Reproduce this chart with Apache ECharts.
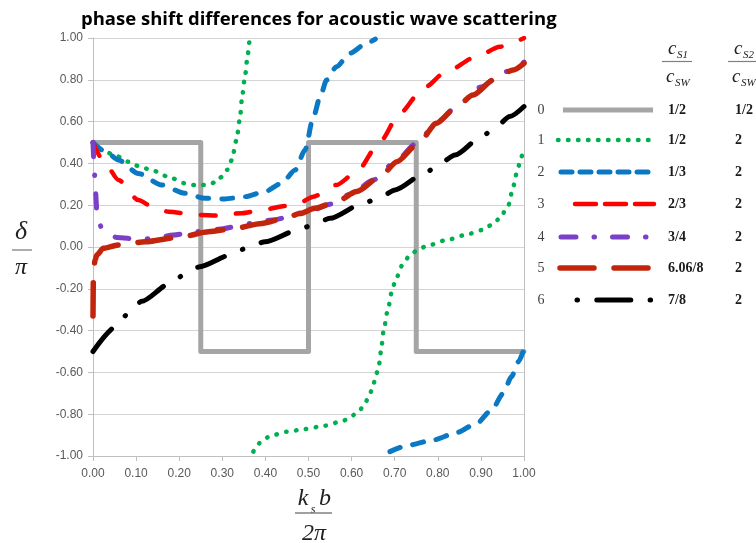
<!DOCTYPE html>
<html>
<head>
<meta charset="utf-8">
<script src="https://cdn.jsdelivr.net/npm/echarts@6/dist/echarts.min.js"></script>
<style>
  html, body { margin: 0; padding: 0; background: #ffffff; }
  #chart { width: 756px; height: 543px; }
</style>
</head>
<body>
<div id="chart"></div>
<script>
// Tick labels
const xTickLabels = ['0.00','0.10','0.20','0.30','0.40','0.50','0.60','0.70','0.80','0.90','1.00'];
const yTickLabels = ['-1.00','-0.80','-0.60','-0.40','-0.20','0.00','0.20','0.40','0.60','0.80','1.00'];

// Legend table: curve index, c_S1/c_SW and c_S2/c_SW
const curveIndex = ['0','1','2','3','4','5','6'];
const ratioS1 = ['1/2','1/2','1/3','2/3','3/4','6.06/8','7/8'];
const ratioS2 = ['1/2','2','2','2','2','2','2'];

// Curve 0: c_S1/c_SW = 1/2, c_S2/c_SW = 1/2
const curve0 = [[0,0.5],[0.25,0.5],[0.25,-0.5],[0.5,-0.5],[0.5,0.5],[0.75,0.5],[0.75,-0.5],[1,-0.5]];

// Curve 1: 1/2, 2 (two branches, wraps at +1 / -1)
const curve1a = [[0,0.5],[0.028,0.456],[0.055,0.435],[0.082,0.408],[0.109,0.384],[0.136,0.368],[0.175,0.336],
  [0.213,0.305],[0.24,0.295],[0.264,0.297],[0.285,0.31],[0.299,0.336],[0.312,0.37],[0.322,0.416],
  [0.333,0.512],[0.341,0.616],[0.346,0.719],[0.353,0.823],[0.359,0.92],[0.363,0.99]];
const curve1b = [[0.372,-0.979],[0.391,-0.931],[0.411,-0.904],[0.449,-0.884],[0.492,-0.871],[0.538,-0.855],
  [0.581,-0.831],[0.6,-0.809],[0.619,-0.78],[0.631,-0.748],[0.643,-0.7],[0.65,-0.66],[0.658,-0.604],
  [0.664,-0.557],[0.668,-0.501],[0.674,-0.405],[0.683,-0.31],[0.694,-0.209],[0.702,-0.155],[0.72,-0.078],
  [0.735,-0.04],[0.751,-0.018],[0.774,0.005],[0.82,0.033],[0.863,0.057],[0.902,0.081],[0.925,0.105],
  [0.944,0.137],[0.964,0.201],[0.975,0.289],[0.983,0.353],[0.991,0.408],[0.997,0.456]];

// Curve 2: 1/3, 2 (two branches)
const curve2a = [[0,0.5],[0.03,0.455],[0.059,0.416],[0.105,0.352],[0.159,0.297],[0.213,0.257],[0.26,0.233],
  [0.306,0.23],[0.353,0.241],[0.399,0.265],[0.438,0.305],[0.469,0.368],[0.492,0.464],[0.511,0.62],
  [0.527,0.719],[0.542,0.799],[0.565,0.863],[0.596,0.927],[0.635,0.975],[0.655,0.995]];
const curve2b = [[0.689,-0.979],[0.735,-0.947],[0.79,-0.923],[0.844,-0.888],[0.89,-0.844],[0.925,-0.78],
  [0.952,-0.7],[0.971,-0.62],[0.987,-0.549],[0.998,-0.5]];

// Curve 3: 2/3, 2
const curve3 = [[0,0.5],[0.028,0.4],[0.059,0.321],[0.105,0.225],[0.14,0.19],[0.175,0.169],[0.244,0.153],
  [0.291,0.15],[0.345,0.162],[0.399,0.18],[0.445,0.196],[0.48,0.212],[0.511,0.241],[0.565,0.297],
  [0.612,0.36],[0.666,0.504],[0.712,0.64],[0.766,0.759],[0.82,0.839],[0.89,0.911],[0.944,0.958],[1,1]];

// Curve 4: 3/4, 2
const curve4 = [[0,0.5],[0.002,0.41],[0.004,0.34],[0.006,0.26],[0.009,0.17],[0.02,0.089],[0.035,0.06],
  [0.055,0.046],[0.105,0.037],[0.144,0.042],[0.186,0.057],[0.237,0.073],[0.291,0.085],[0.368,0.113],
  [0.415,0.129],[0.5,0.169],[0.55,0.205],[0.6,0.255],[0.65,0.32],[0.7,0.405],[0.75,0.495],[0.8,0.6],
  [0.85,0.685],[0.9,0.765],[0.95,0.835],[1,0.885]];

// Curve 5: 6.06/8, 2
const curve5 = [[0,-0.33],[0.001,-0.12],[0.005,-0.06],[0.009,-0.038],[0.024,-0.006],[0.059,0.01],
  [0.121,0.025],[0.206,0.049],[0.268,0.073],[0.329,0.089],[0.391,0.113],[0.445,0.137],[0.48,0.16],
  [0.515,0.185],[0.565,0.217],[0.612,0.265],[0.666,0.336],[0.705,0.408],[0.755,0.496],[0.797,0.592],
  [0.836,0.656],[0.882,0.727],[0.929,0.799],[0.975,0.847],[1,0.879]];

// Curve 6: 7/8, 2
const curve6 = [[0,-0.5],[0.055,-0.378],[0.082,-0.317],[0.113,-0.26],[0.179,-0.174],[0.213,-0.131],
  [0.248,-0.094],[0.322,-0.036],[0.36,-0.001],[0.399,0.025],[0.476,0.081],[0.511,0.107],[0.55,0.137],
  [0.627,0.209],[0.662,0.233],[0.701,0.273],[0.77,0.353],[0.805,0.4],[0.84,0.44],[0.902,0.528],
  [0.935,0.576],[0.967,0.624],[1,0.672]];

// Line styles per curve (chart) and for the legend samples
const styles = [
  { color: '#a5a5a5', width: 5,   dash: 'solid',               legendDash: null },
  { color: '#00b050', width: 4.5, dash: [0.5, 9.5],            legendDash: [0.5, 9.5] },
  { color: '#0a78c2', width: 5,   dash: [11, 13],              legendDash: [11, 8] },
  { color: '#ff0000', width: 4.5, dash: [14.5, 20.5],          legendDash: [21, 9] },
  { color: '#7a40c8', width: 5,   dash: [14, 18.5, 0.5, 18.5], legendDash: [15, 18, 0.5, 18] },
  { color: '#c2250c', width: 5.5, dash: [33, 20],              legendDash: [34, 20] },
  { color: '#000000', width: 5,   dash: [29, 19.5, 0.5, 19.5], legendDash: [0.5, 19.3, 34, 19.3] }
];

function lineSeries(data, idx, z, smooth) {
  const s = styles[idx];
  return {
    type: 'line',
    data: data,
    showSymbol: false,
    symbol: 'none',
    smooth: smooth,
    smoothMonotone: 'x',
    z: z,
    lineStyle: { color: s.color, width: s.width, type: s.dash, cap: 'round', join: 'round' }
  };
}

const serif = '"Liberation Serif", "DejaVu Serif", serif';
const graphics = [];

// y-axis title: delta over pi
graphics.push({ type: 'text', style: { text: 'δ', x: 21, y: 232, font: 'italic 26px ' + serif, fill: '#222', textAlign: 'center', textVerticalAlign: 'middle' } });
graphics.push({ type: 'line', shape: { x1: 12, y1: 250, x2: 32, y2: 250 }, style: { stroke: '#808080', lineWidth: 1.3 } });
graphics.push({ type: 'text', style: { text: 'π', x: 21, y: 268, font: 'italic 24px ' + serif, fill: '#222', textAlign: 'center', textVerticalAlign: 'middle' } });

// x-axis title: k_s b over 2 pi
graphics.push({ type: 'text', style: { text: 'k', x: 303, y: 499, font: 'italic 24px ' + serif, fill: '#222', textAlign: 'center', textVerticalAlign: 'middle' } });
graphics.push({ type: 'text', style: { text: 's', x: 313, y: 510, font: 'italic 12px ' + serif, fill: '#222', textAlign: 'center', textVerticalAlign: 'middle' } });
graphics.push({ type: 'text', style: { text: 'b', x: 325, y: 499, font: 'italic 24px ' + serif, fill: '#222', textAlign: 'center', textVerticalAlign: 'middle' } });
graphics.push({ type: 'line', shape: { x1: 295, y1: 513, x2: 332, y2: 513 }, style: { stroke: '#808080', lineWidth: 1.3 } });
graphics.push({ type: 'text', style: { text: '2π', x: 314, y: 534, font: 'italic 24px ' + serif, fill: '#222', textAlign: 'center', textVerticalAlign: 'middle' } });

// Legend table header: c_S1/c_SW and c_S2/c_SW
function fraction(cx, top, bottom) {
  graphics.push({ type: 'text', style: { text: 'c', x: cx - 8, y: 49, font: 'italic 19px ' + serif, fill: '#222', textAlign: 'left', textVerticalAlign: 'middle' } });
  graphics.push({ type: 'text', style: { text: top, x: cx + 1, y: 55, font: 'italic 11px ' + serif, fill: '#222', textAlign: 'left', textVerticalAlign: 'middle' } });
  graphics.push({ type: 'line', shape: { x1: cx - 14, y1: 61.5, x2: cx + 16, y2: 61.5 }, style: { stroke: '#808080', lineWidth: 1.2 } });
  graphics.push({ type: 'text', style: { text: 'c', x: cx - 10, y: 77, font: 'italic 19px ' + serif, fill: '#222', textAlign: 'left', textVerticalAlign: 'middle' } });
  graphics.push({ type: 'text', style: { text: bottom, x: cx - 1, y: 83, font: 'italic 11px ' + serif, fill: '#222', textAlign: 'left', textVerticalAlign: 'middle' } });
}
fraction(676, 'S1', 'SW');
fraction(742, 'S2', 'SW');

// Legend table rows
const rowY = [110, 140, 172, 204, 237, 268, 300];
const sampleX = [[563, 653], [558, 653], [561, 654], [575, 654], [561, 656], [560, 653], [577, 651]];
for (let i = 0; i < curveIndex.length; i++) {
  const y = rowY[i];
  const s = styles[i];
  graphics.push({ type: 'text', style: { text: curveIndex[i], x: 541, y: y, font: '14px ' + serif, fill: '#404040', textAlign: 'center', textVerticalAlign: 'middle' } });
  const ls = { stroke: s.color, lineWidth: s.width, lineCap: 'round' };
  if (s.legendDash) ls.lineDash = s.legendDash; else ls.lineCap = 'butt';
  graphics.push({ type: 'line', shape: { x1: sampleX[i][0], y1: y, x2: sampleX[i][1], y2: y }, style: ls });
  graphics.push({ type: 'text', style: { text: ratioS1[i], x: 668, y: y, font: 'bold 14px ' + serif, fill: '#1a1a1a', textAlign: 'left', textVerticalAlign: 'middle' } });
  graphics.push({ type: 'text', style: { text: ratioS2[i], x: 735, y: y, font: 'bold 14px ' + serif, fill: '#1a1a1a', textAlign: 'left', textVerticalAlign: 'middle' } });
}

const labelFont = '"Liberation Sans", "Noto Sans", sans-serif';
const chart = echarts.init(document.getElementById('chart'), null, { renderer: 'canvas' });
chart.setOption({
  animation: false,
  backgroundColor: '#ffffff',
  title: {
    text: 'phase shift differences for acoustic wave scattering',
    left: 76, top: 5,
    textStyle: { fontFamily: '"Open Sans", "Noto Sans", sans-serif', fontWeight: 'bold', fontSize: 18.5, color: '#000' }
  },
  grid: { left: 93, right: 232, top: 38, bottom: 87, containLabel: false },
  xAxis: {
    type: 'value', min: 0, max: 1, interval: 0.1,
    axisLine: { onZero: false, lineStyle: { color: '#bfbfbf', width: 1 } },
    axisTick: { show: true, length: 5, lineStyle: { color: '#bfbfbf' } },
    splitLine: { show: false },
    axisLabel: {
      margin: 12, color: '#595959', fontSize: 12, fontFamily: labelFont,
      formatter: v => xTickLabels[Math.round(v * 10)]
    }
  },
  yAxis: [{
    type: 'value', min: -1, max: 1, interval: 0.2,
    axisLine: { show: true, onZero: false, lineStyle: { color: '#bfbfbf', width: 1 } },
    axisTick: { show: true, length: 5, lineStyle: { color: '#bfbfbf' } },
    splitLine: { show: true, lineStyle: { color: '#d4d4d4', width: 1 } },
    axisLabel: {
      margin: 10, color: '#595959', fontSize: 12, fontFamily: labelFont,
      formatter: v => yTickLabels[Math.round((v + 1) * 5)]
    }
  }, {
    type: 'value', min: -1, max: 1, position: 'right',
    axisLine: { show: true, onZero: false, lineStyle: { color: '#bfbfbf', width: 1 } },
    axisTick: { show: false }, axisLabel: { show: false }, splitLine: { show: false }
  }],
  series: [
    lineSeries(curve0, 0, 2, false),
    lineSeries(curve1a, 1, 3, 0.25), lineSeries(curve1b, 1, 3, 0.25),
    lineSeries(curve2a, 2, 4, 0.25), lineSeries(curve2b, 2, 4, 0.25),
    lineSeries(curve3, 3, 5, 0.25),
    lineSeries(curve4, 4, 6, 0.25),
    lineSeries(curve5, 5, 7, 0.25),
    lineSeries(curve6, 6, 8, 0.25)
  ],
  graphic: graphics
});
</script>
</body>
</html>
